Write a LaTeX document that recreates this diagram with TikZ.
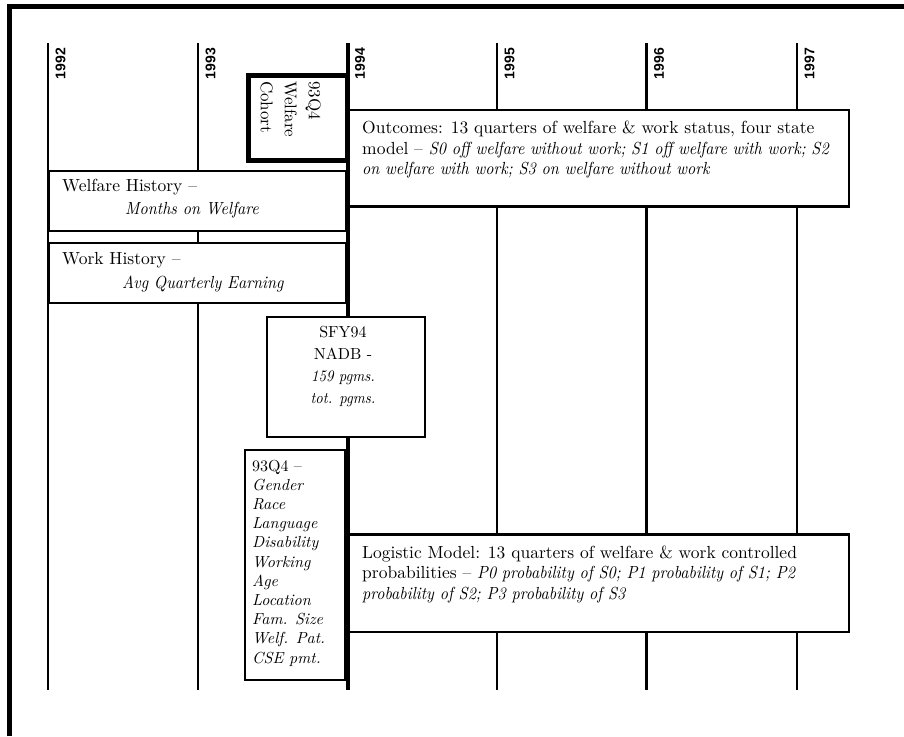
\documentclass[tikz,border=0pt]{standalone}
\usepackage{fontspec}
\setmainfont{lmroman10-regular}[Extension=.otf, ItalicFont=lmroman10-italic, ItalicFeatures={FakeStretch=0.92}]
\newfontfamily\demoit{lmroman10-italic}[Extension=.otf]
\newfontfamily\yearfont{Liberation Sans}
\begin{document}
\begin{tikzpicture}[x=1pt,y=-1pt,
  yearlbl/.style={font=\yearfont\bfseries\fontsize{14}{14}\selectfont, rotate=90, anchor=north east, inner sep=0pt},
  pbox/.style={draw, fill=white, line width=2pt, inner sep=0pt, anchor=north west},
  btext/.style={font=\fontsize{17.5}{20.5}\selectfont, align=left, anchor=base west, inner sep=0pt}]
\useasboundingbox (0,0) rectangle (904,736);
% frame
\coordinate (fa) at (9.5,736);
\coordinate (fb) at (9.5,6.5);
\coordinate (fc) at (904,6.5);
\draw[line width=4.5pt] (fa) -- (fb) -- (fc);
% year lines
\foreach \yr/\xx/\lw in {1992/48/2.8, 1993/198/2.8, 1994/347.5/4, 1995/497/2.8, 1996/646.5/2.8, 1997/797/2.8} {
  \coordinate (t\yr) at (\xx,43);
  \coordinate (b\yr) at (\xx,690);
  \draw[line width=\lw pt] (t\yr) -- (b\yr);
  \node[yearlbl] (l\yr) at (\xx+7.5,48) {\yr};
}
% boxes
\node[pbox, line width=5pt, minimum width=99.5, minimum height=85.5] (cohort) at (245.5,72.5) {};
\node[pbox, line width=2.5pt, minimum width=500.5, minimum height=96.5] (outcomes) at (347,108.5) {};
\node[pbox, minimum width=297, minimum height=60.5] (welfare) at (48,169.5) {};
\node[pbox, minimum width=297, minimum height=60.5] (work) at (48,241.5) {};
\node[pbox, minimum width=158, minimum height=120] (sfy) at (266,316) {};
\node[pbox, minimum width=100, minimum height=230] (demo) at (244,449) {};
\node[pbox, line width=2.5pt, minimum width=500.5, minimum height=97.5] (logistic) at (347,533) {};
% texts (multi-line nodes anchored at the baseline of their last line)
\node[font=\fontsize{17}{24}\selectfont, rotate=-90, anchor=north west, align=left, inner sep=0pt] (cohT) at (321,81) {93Q4\\Welfare\\Cohort};
\node[btext] (outT) at (362,174.5) {Outcomes: 13 quarters of welfare \& work status, four state\\model -- \textit{S0 off welfare without work; S1 off welfare with work; S2}\\\textit{on welfare with work; S3 on welfare without work}};
\node[btext] (welfT1) at (62,191.5) {Welfare History --};
\node[btext] (welfT2) at (125,214) {\textit{Months on Welfare}};
\node[btext] (workT1) at (62,264.5) {Work History --};
\node[btext] (workT2) at (122,288) {\textit{Avg Quarterly Earning}};
\node[btext, align=center, anchor=base, font=\fontsize{16}{22}\selectfont] (sfyT) at (343,403) {SFY94\\NADB -\\\textit{159 pgms.}\\\textit{tot. pgms.}};
\node[btext, font=\fontsize{16}{19.2}\selectfont] (demoT) at (252,663) {93Q4 --\\{\demoit Gender}\\{\demoit Race}\\{\demoit Language}\\{\demoit Disability}\\{\demoit Working}\\{\demoit Age}\\{\demoit Location}\\{\demoit Fam. Size}\\{\demoit Welf. Pat.}\\{\demoit CSE pmt.}};
\node[btext] (logT) at (362,599) {Logistic Model: 13 quarters of welfare \& work controlled\\probabilities -- \textit{P0 probability of S0; P1 probability of S1; P2}\\\textit{probability of S2; P3 probability of S3}};
\end{tikzpicture}
\end{document}
